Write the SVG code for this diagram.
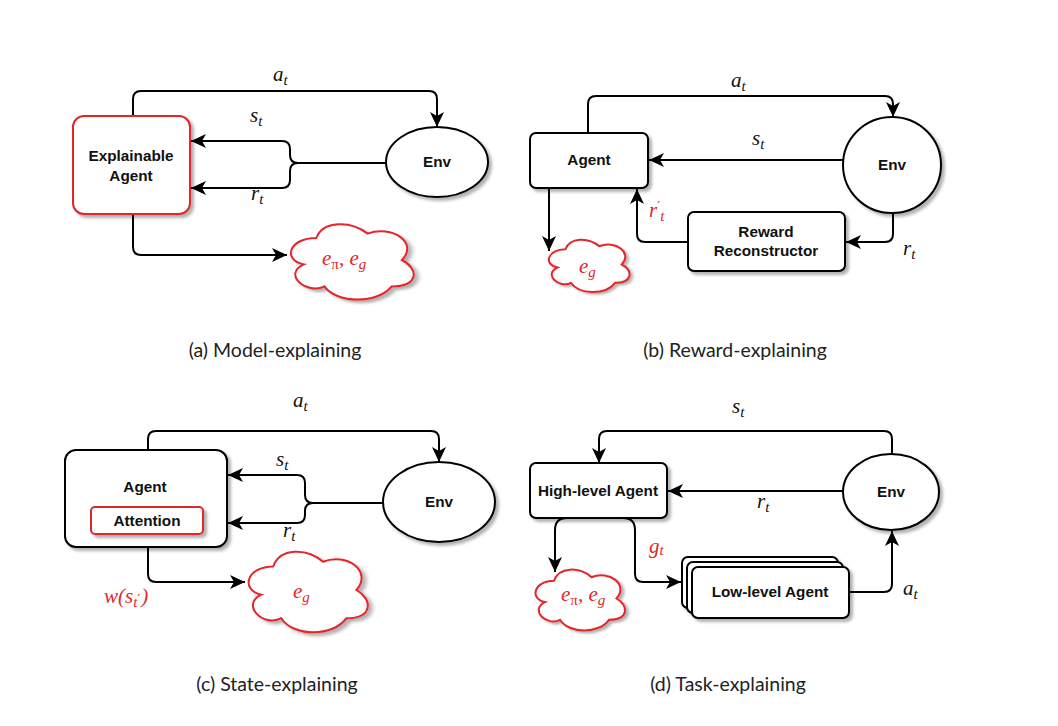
<svg xmlns="http://www.w3.org/2000/svg" xmlns:xlink="http://www.w3.org/1999/xlink" width="1058" height="726" viewBox="0 0 1058 726">
<style>
.node{fill:#fff;stroke:#000;stroke-width:2}
.rnode{fill:#fff;stroke:#e3262c;stroke-width:2}
.edge{fill:none;stroke:#000;stroke-width:2;stroke-linejoin:round}
.nt{font-family:"Liberation Sans",Arial,Helvetica,sans-serif;font-weight:bold;font-size:15.3px;text-anchor:middle;fill:#111}
.m{font-family:"Liberation Serif","Times New Roman",serif;font-style:italic;font-size:21px;fill:#111}
.red{fill:#e3262c}
.sub{font-size:15px}
.pr{font-family:"DejaVu Sans",sans-serif;font-style:normal;font-size:13px}
.cap{font-family:Lato,"Open Sans",sans-serif;font-size:19.5px;text-anchor:middle;fill:#222}
</style>
<defs>
<filter id="sh" x="-20%" y="-20%" width="150%" height="150%">
<feDropShadow dx="3" dy="3" stdDeviation="1.5" flood-color="#000" flood-opacity="0.3"/>
</filter>
<marker id="arr" markerWidth="16" markerHeight="14" refX="15" refY="7" orient="auto" markerUnits="userSpaceOnUse">
<path d="M0,0 L15,7 L0,14 L4,7 Z" fill="#000"/>
</marker>
<path id="cloud" vector-effect="non-scaling-stroke" d="M25,25 C5,25 0,50 16,55 C0,66 18,90 31,80 C40,100 70,100 80,80 C100,80 100,60 87.5,50 C100,30 80,10 62.5,20 C50,5 30,5 25,25 Z"/>
</defs>
<rect width="1058" height="726" fill="#fff"/>

<!-- (a) Model-explaining -->
<g id="a-connectors">
<path class="edge" marker-end="url(#arr)" d="M133,116 V99 Q133,91 141,91 H429 Q437,91 437,99 V127"/>
<path class="edge" marker-end="url(#arr)" d="M386,163 H298 Q290,163 290,155 V149 Q290,141 282,141 H191"/>
<path class="edge" marker-end="url(#arr)" d="M386,163 H298 Q290,163 290,171 V180 Q290,188 282,188 H191"/>
<path class="edge" marker-end="url(#arr)" d="M133,214 V247 Q133,255 141,255 H287"/>
</g>
<g id="a-agent">
<rect class="rnode" filter="url(#sh)" x="73" y="116" width="117" height="98" rx="11"/>
<text class="nt" x="131" y="161">Explainable</text>
<text class="nt" x="131" y="181">Agent</text>
</g>
<g id="a-env">
<ellipse class="node" filter="url(#sh)" cx="437" cy="162" rx="51" ry="35"/>
<text class="nt" x="437" y="167">Env</text>
</g>
<g id="a-expl">
<use href="#cloud" class="rnode" filter="url(#sh)" transform="translate(282,216) scale(1.37,0.88)"/>
<text class="m red" x="322" y="265">e<tspan class="sub" dy="4" font-style="normal">π</tspan><tspan dy="-4">, e</tspan><tspan class="sub" dy="4">g</tspan></text>
</g>
<g id="a-labels">
<text class="m" x="273" y="81">a<tspan class="sub" dy="4">t</tspan></text>
<text class="m" x="250" y="122">s<tspan class="sub" dy="4">t</tspan></text>
<text class="m" x="251" y="200">r<tspan class="sub" dy="4">t</tspan></text>
</g>
<text class="cap" x="275" y="357">(a) Model-explaining</text>

<!-- (b) Reward-explaining -->
<g id="b-connectors">
<path class="edge" marker-end="url(#arr)" d="M588,133 V104 Q588,96 596,96 H885 Q893,96 893,104 V117"/>
<path class="edge" marker-end="url(#arr)" d="M843,160 H649"/>
<path class="edge" marker-end="url(#arr)" d="M893,212 V234 Q893,242 885,242 H846"/>
<path class="edge" marker-end="url(#arr)" d="M688,242 H645 Q637,242 637,234 V189"/>
<path class="edge" marker-end="url(#arr)" d="M549,188 V251"/>
</g>
<g id="b-agent">
<rect class="node" filter="url(#sh)" x="530" y="133" width="118" height="55" rx="6"/>
<text class="nt" x="589" y="165">Agent</text>
</g>
<g id="b-env">
<ellipse class="node" filter="url(#sh)" cx="892" cy="165" rx="49" ry="48"/>
<text class="nt" x="892" y="170">Env</text>
</g>
<g id="b-reward">
<rect class="node" filter="url(#sh)" x="688" y="212" width="157" height="59" rx="6"/>
<text class="nt" x="766" y="237">Reward</text>
<text class="nt" x="766" y="256">Reconstructor</text>
</g>
<g id="b-expl">
<use href="#cloud" class="rnode" filter="url(#sh)" transform="translate(543,234) scale(0.9,0.61)"/>
<text class="m red" x="579" y="273">e<tspan class="sub" dy="4">g</tspan></text>
</g>
<g id="b-labels">
<text class="m" x="731" y="87">a<tspan class="sub" dy="4">t</tspan></text>
<text class="m" x="752" y="145">s<tspan class="sub" dy="4">t</tspan></text>
<text class="m" x="903" y="255">r<tspan class="sub" dy="4">t</tspan></text>
<text class="m red" x="649" y="217">r<tspan class="pr" dy="-7">′</tspan><tspan class="sub" dy="11">t</tspan></text>
</g>
<text class="cap" x="735" y="357">(b) Reward-explaining</text>

<!-- (c) State-explaining -->
<g id="c-connectors">
<path class="edge" marker-end="url(#arr)" d="M148,450 V439 Q148,431 156,431 H431 Q439,431 439,439 V462"/>
<path class="edge" marker-end="url(#arr)" d="M383,503 H313 Q305,503 305,495 V483 Q305,475 297,475 H228"/>
<path class="edge" marker-end="url(#arr)" d="M383,503 H313 Q305,503 305,511 V515 Q305,523 297,523 H228"/>
<path class="edge" marker-end="url(#arr)" d="M148,534 V574 Q148,582 156,582 H245"/>
</g>
<g id="c-agent">
<rect class="node" filter="url(#sh)" x="65" y="450" width="162" height="97" rx="11"/>
<text class="nt" x="145" y="492">Agent</text>
</g>
<g id="c-attention">
<rect class="rnode" filter="url(#sh)" x="91" y="507" width="112" height="27" rx="4"/>
<text class="nt" x="147" y="526">Attention</text>
</g>
<g id="c-env">
<ellipse class="node" filter="url(#sh)" cx="439" cy="502" rx="56" ry="40"/>
<text class="nt" x="439" y="507">Env</text>
</g>
<g id="c-expl">
<use href="#cloud" class="rnode" filter="url(#sh)" transform="translate(240,543) scale(1.33,0.94)"/>
<text class="m red" x="293" y="598">e<tspan class="sub" dy="4">g</tspan></text>
</g>
<g id="c-labels">
<text class="m" x="293" y="407">a<tspan class="sub" dy="4">t</tspan></text>
<text class="m" x="276" y="466">s<tspan class="sub" dy="4">t</tspan></text>
<text class="m" x="283" y="537">r<tspan class="sub" dy="4">t</tspan></text>
<text class="m red" x="104" y="603">w(s<tspan class="sub" dy="4">t</tspan><tspan class="pr" font-size="10px" dy="-4">′</tspan><tspan dx="1" dy="0">)</tspan></text>
</g>
<text class="cap" x="277" y="691">(c) State-explaining</text>

<!-- (d) Task-explaining -->
<g id="d-connectors">
<path class="edge" marker-end="url(#arr)" d="M892,455 V439 Q892,431 884,431 H607 Q599,431 599,439 V463"/>
<path class="edge" marker-end="url(#arr)" d="M843,491 H668"/>
<path class="edge" marker-end="url(#arr)" d="M567,518 Q555,518 555,530 V572"/>
<path class="edge" marker-end="url(#arr)" d="M623,518 Q635,518 635,530 V574 Q635,582 643,582 H681"/>
<path class="edge" marker-end="url(#arr)" d="M849,592 H884 Q892,592 892,584 V531"/>
</g>
<g id="d-high">
<rect class="node" filter="url(#sh)" x="530" y="463" width="137" height="55" rx="6"/>
<text class="nt" x="598" y="496">High-level Agent</text>
</g>
<g id="d-env">
<ellipse class="node" filter="url(#sh)" cx="891" cy="492" rx="48" ry="38"/>
<text class="nt" x="891" y="497">Env</text>
</g>
<g id="d-low">
<rect class="node" filter="url(#sh)" x="682" y="557" width="156" height="51" rx="6"/>
<rect class="node" filter="url(#sh)" x="687" y="562" width="156" height="51" rx="6"/>
<rect class="node" filter="url(#sh)" x="692" y="567" width="157" height="51" rx="6"/>
<text class="nt" x="770" y="597">Low-level Agent</text>
</g>
<g id="d-expl">
<use href="#cloud" class="rnode" filter="url(#sh)" transform="translate(529,563) scale(1.0,0.71)"/>
<text class="m red" x="561" y="601">e<tspan class="sub" dy="4" font-style="normal">π</tspan><tspan dy="-4">, e</tspan><tspan class="sub" dy="4">g</tspan></text>
</g>
<g id="d-labels">
<text class="m" x="732" y="413">s<tspan class="sub" dy="4">t</tspan></text>
<text class="m" x="757" y="508">r<tspan class="sub" dy="4">t</tspan></text>
<text class="m red" x="649" y="553">g<tspan class="sub" dy="2">t</tspan></text>
<text class="m" x="903" y="595">a<tspan class="sub" dy="4">t</tspan></text>
</g>
<text class="cap" x="728" y="691">(d) Task-explaining</text>
</svg>
